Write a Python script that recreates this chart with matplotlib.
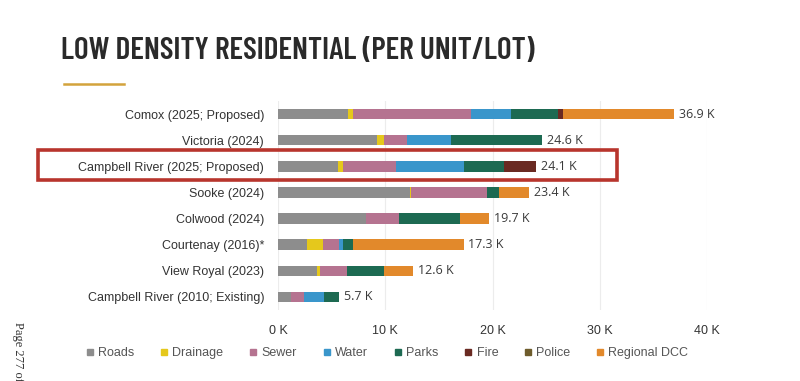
import numpy as np
import matplotlib.pyplot as plt
from matplotlib.lines import Line2D
from matplotlib.patches import Rectangle

# data (thousands of dollars per unit/lot)
places = ["Comox (2025; Proposed)", "Victoria (2024)", "Campbell River (2025; Proposed)",
          "Sooke (2024)", "Colwood (2024)", "Courtenay (2016)*", "View Royal (2023)",
          "Campbell River (2010; Existing)"]
roads = [6.5, 9.25, 5.55, 12.3, 8.2, 2.75, 3.6, 1.25]
drainage = [0.5, 0.65, 0.5, 0.1, 0, 1.45, 0.3, 0]
sewer = [11.0, 2.1, 4.95, 7.05, 3.1, 1.45, 2.55, 1.2]
water = [3.7, 4.1, 6.35, 0, 0, 0.45, 0, 1.85]
parks = [4.4, 8.5, 3.75, 1.2, 5.7, 0.85, 3.45, 1.4]
fire = [0.5, 0, 3.0, 0, 0, 0, 0, 0]
police = [0, 0, 0, 0, 0, 0, 0, 0]
regional = [10.3, 0, 0, 2.75, 2.7, 10.35, 2.7, 0]

components = ["Roads", "Drainage", "Sewer", "Water", "Parks", "Fire", "Police", "Regional DCC"]
colors = ["#8d8d8d", "#e5c81c", "#b57390", "#3a96cb", "#1d6a52", "#6a2a22", "#6e5c2c", "#e2892b"]
series = [roads, drainage, sewer, water, parks, fire, police, regional]

fig = plt.figure(figsize=(8, 3.81), dpi=100)
fig.patch.set_facecolor("white")
ax = fig.add_axes([278 / 800, 71 / 381, 429 / 800, 209 / 381])

y = np.arange(len(places))
left = np.zeros(len(places))
for name, vals, c in zip(components, series, colors):
    vals = np.array(vals)
    ax.barh(y, vals, left=left, height=0.4, color=c, label=name)
    left += vals

for yi, total in zip(y, left):
    ax.annotate(f"{total:.1f} K", (total, yi), xytext=(3.5, 0), textcoords="offset points",
                va="center", ha="left", fontsize=9, family="Open Sans", color="#3a3a3a")

ax.set_xlim(0, 40)
ax.set_ylim(len(places) - 0.5, -0.5)
ax.set_xticks([0, 10, 20, 30, 40])
ax.set_xticklabels(["0 K", "10 K", "20 K", "30 K", "40 K"])
ax.set_yticks(y)
ax.set_yticklabels(places)
ax.tick_params(axis="both", length=0, labelsize=9, colors="#333333")
ax.tick_params(axis="x", pad=11)
ax.tick_params(axis="y", pad=10)
for lab in ax.get_xticklabels() + ax.get_yticklabels():
    lab.set_family("Liberation Sans")
for s in ax.spines.values():
    s.set_visible(False)
ax.set_axisbelow(True)
ax.grid(axis="x", color="#ececec", linewidth=0.8)
ax.grid(axis="y", visible=False)

# title and the short rule under it
fig.text(61 / 800, 1 - 59 / 381, "LOW DENSITY RESIDENTIAL (PER UNIT/LOT)", ha="left", va="baseline",
         fontsize=22.5, fontweight=600, family="Barlow Condensed", color="#2a2a2a")
fig.add_artist(Line2D([64 / 800, 124 / 800], [1 - 84 / 381, 1 - 84 / 381],
                      transform=fig.transFigure, color="#d3a33c", linewidth=1.8))

# red box round the Campbell River row
fig.add_artist(Rectangle((38 / 800, 1 - 180 / 381), 579 / 800, 30 / 381, transform=fig.transFigure,
                         fill=False, edgecolor="#b8352d", linewidth=2.6))

# legend
handles = [Line2D([], [], marker="s", linestyle="none", markersize=5, color=c) for c in colors]
fig.legend(handles, components, loc="center left", bbox_to_anchor=(86 / 800, 1 - 353 / 381),
           ncol=8, frameon=False, handlelength=0.6, handletextpad=0.35, columnspacing=2.1,
           borderpad=0, borderaxespad=0, prop={"family": "Liberation Sans", "size": 9},
           labelcolor="#555555")

fig.text(18 / 800, 1 - 322 / 381, "Page 277 of", rotation=270, ha="center", va="top",
         fontsize=9, family="Liberation Serif", color="#333333")

fig.savefig("out.png", dpi=100)
